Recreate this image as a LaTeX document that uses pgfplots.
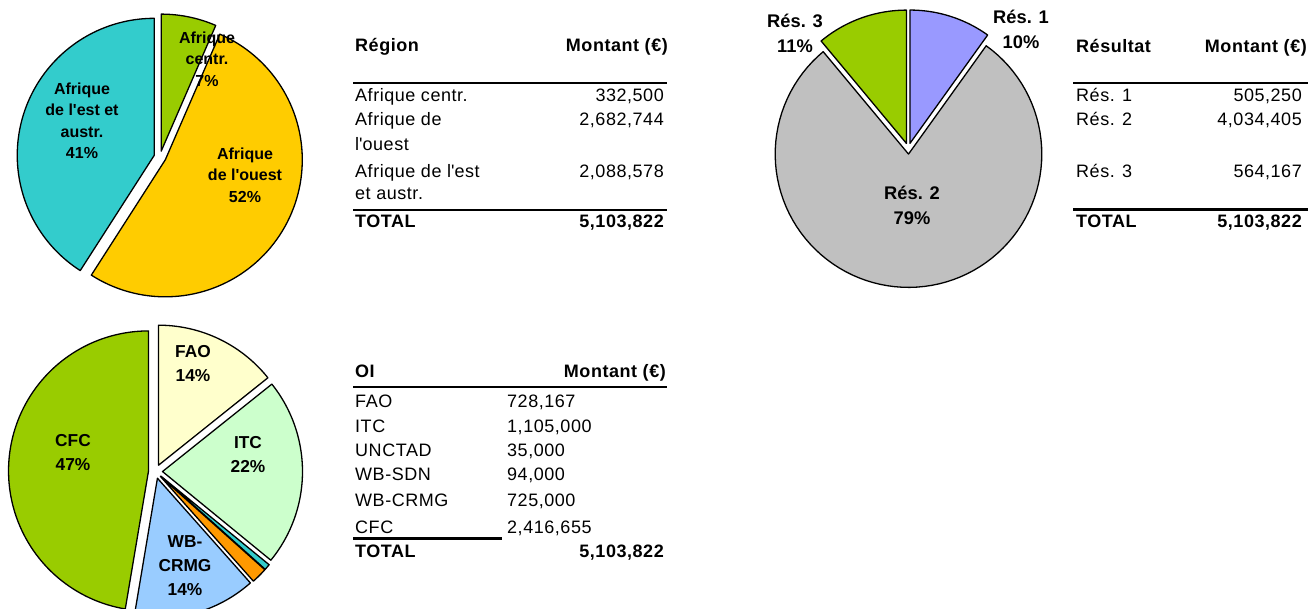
\documentclass[border=0pt]{standalone}
\usepackage{pgfplots}
\pgfplotsset{compat=1.18}
\usepackage{fontspec}
\setmainfont{Liberation Sans}
\newfontfamily\tabfont{Liberation Sans}[LetterSpace=3]
\definecolor{cTeal}{HTML}{33CCCC}
\definecolor{cYellow}{HTML}{FFCC00}
\definecolor{cGreen}{HTML}{99CC00}
\definecolor{cLav}{HTML}{9999FF}
\definecolor{cGrey}{HTML}{C0C0C0}
\definecolor{cLY}{HTML}{FFFFCC}
\definecolor{cLG}{HTML}{CCFFCC}
\definecolor{cLB}{HTML}{99CCFF}
\definecolor{cOrange}{HTML}{FF9900}
\newcommand{\tf}{\tabfont\fontsize{18}{24}\selectfont}
\newcommand{\tb}{\tabfont\fontsize{18}{24}\selectfont\bfseries}
\newcommand{\lfA}{\fontsize{16}{21.5}\selectfont\bfseries}
\newcommand{\lfB}{\fontsize{18.3}{25}\selectfont\bfseries}
\newcommand{\lfC}{\fontsize{17.3}{24}\selectfont\bfseries}
\newcommand{\q}{\textquotesingle}
% #1 = sum of the values before this slice, #2 = value, #3 = colour, #4 = total
\newcommand{\slice}[4]{%
  \edef\aA{\fpeval{round(90-360*(#1+#2)/(#4),4)}}%
  \edef\aB{\fpeval{round(90-360*(#1)/(#4),4)}}%
  \edef\dX{\fpeval{round(\PieD*cosd((\aA+\aB)/2),4)}}%
  \edef\dY{\fpeval{round(\PieD*sind((\aA+\aB)/2),4)}}%
  \edef\doslice{\noexpand\addplot[fill=#3,draw=black,line width=1.3pt,line join=round,
    domain=\aA:\aB,samples=90,variable=\noexpand\t]
    ({\dX+\PieR*cos(\noexpand\t)},{\dY+\PieR*sin(\noexpand\t)}) -- (axis cs:\dX,\dY) -- cycle;}%
  \doslice
}
\pgfplotsset{pieax/.style={hide axis, x=1pt, y=1pt, xmin=-155, xmax=155, ymin=-155, ymax=155,
  anchor=center, clip=false, scale only axis}}
\begin{document}
\begin{tikzpicture}
% ---------- Pie 1 : Région
\def\PieR{137}\def\PieD{6}
\begin{axis}[pieax, at={(160pt,-157pt)}]
\slice{0}{332500}{cGreen}{5103822}
\slice{332500}{2682744}{cYellow}{5103822}
\slice{332500+2682744}{2088578}{cTeal}{5103822}
\end{axis}
% ---------- Pie 2 : Résultat
\def\PieR{133.3}\def\PieD{5.5}
\begin{axis}[pieax, at={(908.3pt,-148.6pt)}]
\slice{0}{505250}{cLav}{5103822}
\slice{505250}{4034405}{cGrey}{5103822}
\slice{505250+4034405}{564167}{cGreen}{5103822}
\end{axis}
% ---------- Pie 3 : OI
\def\PieR{140}\def\PieD{7}
\begin{axis}[pieax, at={(155.5pt,-471.5pt)}]
\slice{0}{728167}{cLY}{5103822}
\slice{728167}{1105000}{cLG}{5103822}
\slice{728167+1105000}{35000}{cTeal}{5103822}
\slice{728167+1105000+35000}{94000}{cOrange}{5103822}
\slice{728167+1105000+35000+94000}{725000}{cLB}{5103822}
\slice{728167+1105000+35000+94000+725000}{2416655}{cGreen}{5103822}
\end{axis}
% ---------- pie labels
\begin{scope}[every node/.style={align=center, inner sep=0pt}]
\node[font=\lfA] at (207pt,-59pt) {Afrique\\centr.\\7\%};
\node[font=\lfA] at (82pt,-121pt) {Afrique\\de l\q est et\\austr.\\41\%};
\node[font=\lfA] at (245pt,-175pt) {Afrique\\de l\q ouest\\52\%};
\node[font=\lfB] at (795pt,-33.5pt) {Rés. 3\\11\%};
\node[font=\lfB] at (1021pt,-29pt) {Rés. 1\\10\%};
\node[font=\lfB] at (912pt,-205.5pt) {Rés. 2\\79\%};
\node[font=\lfC] at (193pt,-363.5pt) {FAO\\14\%};
\node[font=\lfC] at (248pt,-455pt) {ITC\\22\%};
\node[font=\lfC] at (73pt,-452.5pt) {CFC\\47\%};
\node[font=\lfC] at (185pt,-566pt) {WB-\\CRMG\\14\%};
\end{scope}
% ---------- Table 1
\begin{scope}[every node/.style={inner sep=0pt}]
\node[anchor=base west, font=\tb] at (355pt,-52pt) {Région};
\node[anchor=base east, font=\tb] at (668pt,-52pt) {Montant (€)};
\draw[line width=2.5pt] (353pt,-83pt) -- (667pt,-83pt);
\node[anchor=base west, font=\tf] at (355pt,-102pt) {Afrique centr.};
\node[anchor=base east, font=\tf] at (664pt,-102pt) {332,500};
\node[anchor=base west, font=\tf] at (355pt,-126pt) {Afrique de};
\node[anchor=base west, font=\tf] at (355pt,-150.5pt) {l\q ouest};
\node[anchor=base east, font=\tf] at (664pt,-126pt) {2,682,744};
\node[anchor=base west, font=\tf] at (355pt,-178pt) {Afrique de l\q est};
\node[anchor=base west, font=\tf] at (355pt,-200pt) {et austr.};
\node[anchor=base east, font=\tf] at (664pt,-178pt) {2,088,578};
\draw[line width=2.5pt] (353pt,-210pt) -- (667pt,-210pt);
\node[anchor=base west, font=\tb] at (355pt,-227.5pt) {TOTAL};
\node[anchor=base east, font=\tb] at (664pt,-227.5pt) {5,103,822};
% ---------- Table 2
\node[anchor=base west, font=\tb] at (1076pt,-52.5pt) {Résultat};
\node[anchor=base east, font=\tb] at (1307pt,-52.5pt) {Montant (€)};
\draw[line width=2.5pt] (1073pt,-83pt) -- (1308pt,-83pt);
\node[anchor=base west, font=\tf] at (1076pt,-102pt) {Rés. 1};
\node[anchor=base east, font=\tf] at (1302pt,-102pt) {505,250};
\node[anchor=base west, font=\tf] at (1076pt,-126pt) {Rés. 2};
\node[anchor=base east, font=\tf] at (1302pt,-126pt) {4,034,405};
\node[anchor=base west, font=\tf] at (1076pt,-178pt) {Rés. 3};
\node[anchor=base east, font=\tf] at (1302pt,-178pt) {564,167};
\draw[line width=2.5pt] (1073pt,-209.5pt) -- (1308pt,-209.5pt);
\node[anchor=base west, font=\tb] at (1076pt,-228pt) {TOTAL};
\node[anchor=base east, font=\tb] at (1302pt,-228pt) {5,103,822};
% ---------- Table 3
\node[anchor=base west, font=\tb] at (355pt,-378pt) {OI};
\node[anchor=base east, font=\tb] at (666pt,-378pt) {Montant (€)};
\draw[line width=2.5pt] (353pt,-387pt) -- (667pt,-387pt);
\node[anchor=base west, font=\tf] at (355pt,-408pt) {FAO};
\node[anchor=base west, font=\tf] at (507pt,-408pt) {728,167};
\node[anchor=base west, font=\tf] at (355pt,-432.5pt) {ITC};
\node[anchor=base west, font=\tf] at (507pt,-432.5pt) {1,105,000};
\node[anchor=base west, font=\tf] at (355pt,-457pt) {UNCTAD};
\node[anchor=base west, font=\tf] at (507pt,-457pt) {35,000};
\node[anchor=base west, font=\tf] at (355pt,-481pt) {WB-SDN};
\node[anchor=base west, font=\tf] at (507pt,-481pt) {94,000};
\node[anchor=base west, font=\tf] at (355pt,-507pt) {WB-CRMG};
\node[anchor=base west, font=\tf] at (507pt,-507pt) {725,000};
\node[anchor=base west, font=\tf] at (355pt,-533pt) {CFC};
\node[anchor=base west, font=\tf] at (507pt,-533pt) {2,416,655};
\draw[line width=2.5pt] (353pt,-538.5pt) -- (502pt,-538.5pt);
\node[anchor=base west, font=\tb] at (355pt,-558pt) {TOTAL};
\node[anchor=base east, font=\tb] at (664pt,-558pt) {5,103,822};
\end{scope}
\pgfresetboundingbox
\useasboundingbox (0pt,0pt) rectangle (1310pt,-609pt);
\end{tikzpicture}
\end{document}
